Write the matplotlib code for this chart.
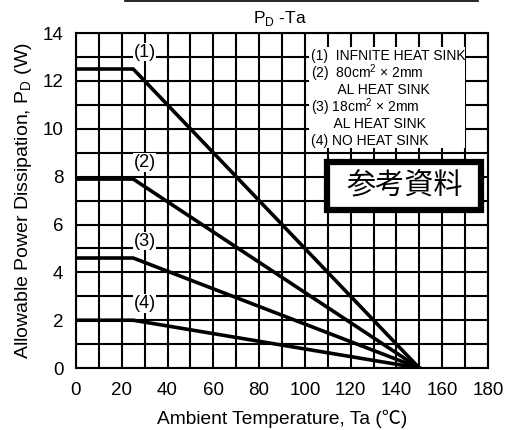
import matplotlib
matplotlib.use("Agg")
import matplotlib.pyplot as plt
from matplotlib.patches import Rectangle
from matplotlib.lines import Line2D

# Data
ta_points = [0, 25, 150]
pd_infinite = [12.5, 12.5, 0]
pd_80cm = [7.9, 7.9, 0]
pd_18cm = [4.6, 4.6, 0]
pd_none = [2.0, 2.0, 0]
series = [pd_infinite, pd_80cm, pd_18cm, pd_none]
curve_labels = ["(1)", "(2)", "(3)", "(4)"]
curve_label_y = [13.2, 8.6, 5.3, 2.7]
x_ticks = [0, 20, 40, 60, 80, 100, 120, 140, 160, 180]
y_ticks = [0, 2, 4, 6, 8, 10, 12, 14]
legend_lines = ["(1)  INFNITE HEAT SINK",
                "(2)  80cm$^2$ × 2mm",
                "       AL HEAT SINK",
                "(3) 18cm$^2$ × 2mm",
                "      AL HEAT SINK",
                "(4) NO HEAT SINK"]

FONT = ["Liberation Sans", "Noto Sans CJK JP", "DejaVu Sans"]
plt.rcParams["font.family"] = FONT
plt.rcParams["mathtext.fontset"] = "custom"
plt.rcParams["mathtext.rm"] = "Liberation Sans"

fig = plt.figure(figsize=(5.27, 4.30), dpi=100)
ax = fig.add_axes([0.1442, 0.144, 0.7818, 0.779])
ax.set_xlim(0, 180)
ax.set_ylim(0, 14)

# grid
ax.set_xticks(range(0, 181, 10), minor=True)
ax.set_yticks(range(0, 15, 1), minor=True)
ax.set_xticks(x_ticks)
ax.set_yticks(y_ticks)
ax.grid(True, which="both", color="black", linewidth=1.5)
ax.set_xticklabels([str(v) for v in x_ticks])
ax.set_yticklabels([str(v) for v in y_ticks])
ax.tick_params(which="both", length=0, labelsize=13.5)
ax.tick_params(axis="x", pad=10)
ax.tick_params(axis="y", pad=9)
for s in ax.spines.values():
    s.set_linewidth(1.5)

for vals in series:
    ax.plot(ta_points, vals, color="black", linewidth=2.6, solid_joinstyle="miter", zorder=4)

for lab, yv in zip(curve_labels, curve_label_y):
    ax.text(30, yv, lab, ha="center", va="center", fontsize=13,
            bbox=dict(facecolor="white", edgecolor="none", pad=0.5), zorder=5)

# legend box (white)
ax.add_patch(Rectangle((101.6, 9.2), 68.2, 4.2, facecolor="white", edgecolor="none", zorder=3))
for i, line in enumerate(legend_lines):
    ax.text(102.5, 13.05 - i * 0.71, line, ha="left", va="center", fontsize=10, zorder=5)

# 参考資料 box
ax.add_patch(Rectangle((109.5, 6.6), 67.5, 2.0, facecolor="white", edgecolor="black",
                       linewidth=4.5, zorder=5, clip_on=False))
ax.text(143.5, 7.6, "参考資料", ha="center", va="center", fontsize=21,
        family=["Noto Sans CJK JP"], zorder=6)

ax.set_xlabel("Ambient Temperature, Ta (℃)", fontsize=13.8, labelpad=8)
ax.set_ylabel("Allowable Power Dissipation, P$_\\mathrm{D}$ (W)", fontsize=14, labelpad=6)

fig.text(0.532, 0.958, "P$_\\mathrm{D}$ -Ta", ha="center", va="center", fontsize=12.5)
fig.add_artist(Line2D([125/527, 478/527], [0.998, 0.998], color="black", linewidth=1.2))

fig.savefig("out.png", dpi=100)
